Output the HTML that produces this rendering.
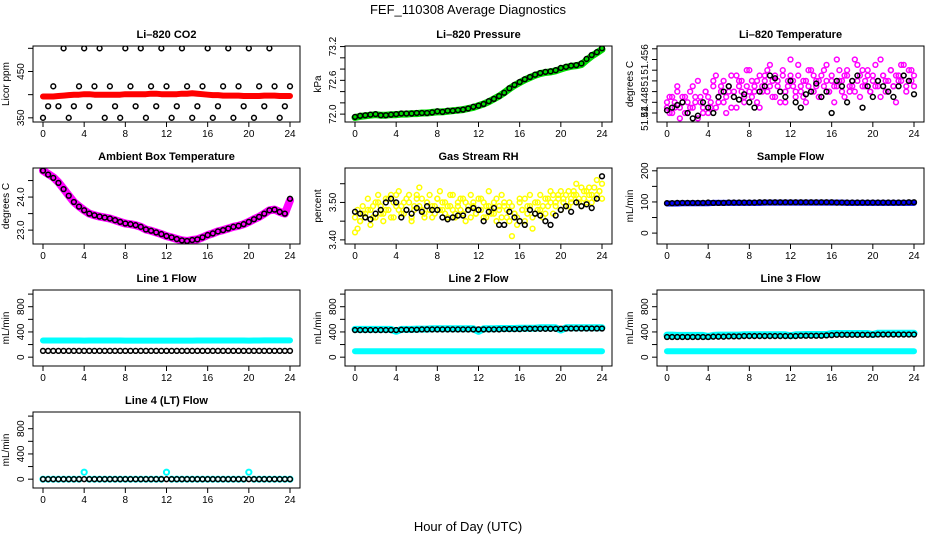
<!DOCTYPE html>
<html><head><meta charset="utf-8"><style>
html,body{margin:0;padding:0;background:#fff}
svg{display:block;font-family:"Liberation Sans",Arial,sans-serif}
</style></head><body>
<svg id="c" width="936" height="540" viewBox="0 0 936 540">
<text x="468" y="14" text-anchor="middle" font-size="13">FEF_110308  Average Diagnostics</text>
<text x="468" y="531" text-anchor="middle" font-size="13">Hour of Day (UTC)</text>
</svg>
<script>
const hours=[0,0.5,1,1.5,2,2.5,3,3.5,4,4.5,5,5.5,6,6.5,7,7.5,8,8.5,9,9.5,10,10.5,11,11.5,12,12.5,13,13.5,14,14.5,15,15.5,16,16.5,17,17.5,18,18.5,19,19.5,20,20.5,21,21.5,22,22.5,23,23.5,24];
const xTicks=[0,4,8,12,16,20,24];
const co2Black=[350,375,418,375,500,350,375,418,500,375,418,500,350,418,375,350,500,418,375,500,350,418,375,500,418,350,375,500,418,350,375,418,500,350,375,418,500,350,418,375,500,350,418,375,500,418,350,375,418];
const co2Red=[396,396,396,397,398,399,400,400,401,401,400,400,400,400,400,400,401,401,401,401,401,402,402,401,401,401,401,402,402,403,402,401,400,399,399,398,398,398,398,397,397,397,397,398,398,398,397,397,397];
const presBlack=[71.95,71.97,71.98,71.99,72.0,71.98,71.98,71.99,72.0,72.01,72.01,72.01,72.02,72.02,72.02,72.03,72.05,72.04,72.06,72.06,72.07,72.08,72.1,72.13,72.15,72.18,72.23,72.27,72.32,72.38,72.46,72.52,72.57,72.62,72.66,72.7,72.73,72.75,72.76,72.78,72.82,72.84,72.86,72.87,72.9,72.98,73.05,73.1,73.17];
const presGreen=[71.94,71.96,71.97,71.98,71.99,71.98,71.98,71.99,71.99,72.0,72.0,72.01,72.01,72.02,72.02,72.03,72.04,72.04,72.05,72.06,72.07,72.08,72.1,72.12,72.15,72.18,72.22,72.27,72.32,72.38,72.45,72.51,72.56,72.61,72.65,72.69,72.72,72.74,72.75,72.77,72.8,72.83,72.85,72.86,72.88,72.96,73.03,73.09,73.15];
const tempMag=[8,6,9,7,10,5,8,9,6,7,11,8,5,9,7,10,6,8,12,7,9,11,8,6,10,13,9,7,12,10,8,11,14,9,10,12,7,11,13,10,15,12,9,11,8,13,10,12,16,11,9,13,10,12,8,11,14,10,12,9,13,11,15,10,12,8,11,14,12,9,13,10,11,16,12,9,14,11,13,10,12,15,11,9,13,12,10,14,11,8,13,12,15,10,12,14,11];
const tempMag2=[7,9,6,8,11,7,9,6,8,10,7,9,12,8,6,10,9,7,11,13,8,10,12,9,11,7,10,13,11,12,9,14,10,12,11,8,13,10,12,14,11,9,13,12,10,14,8,11,13,12,10,15,11,9,12,14,10,13,11,12,9,14,12,10,13,11,16,12,10,13,14,11,12,10,15,13,11,12,14,10,13,11,12,16,13,10,12,14,11,13,12,15,13,11,14,12,13];
const tempBlack=[6.5,7,7.5,8,6,5,5.5,8,7,6,9,10,11,9,8.5,9.5,8,7,10,11,13,12.5,10,9,12,8,7,9.5,10,11.5,9,10,6,12,11,8,12,13,7,11,9,12,11,10,9,11,13,12,9.5];
const ambMag=[24.8,24.7,24.6,24.45,24.25,24.05,23.85,23.72,23.6,23.5,23.45,23.41,23.38,23.35,23.3,23.25,23.2,23.18,23.15,23.1,23.02,22.98,22.93,22.88,22.82,22.78,22.73,22.69,22.67,22.7,22.72,22.78,22.85,22.9,22.96,23.0,23.05,23.1,23.13,23.18,23.25,23.33,23.4,23.5,23.6,23.62,23.55,23.5,23.9];
const ambBlack=[24.8,24.68,24.58,24.43,24.24,24.04,23.85,23.71,23.6,23.5,23.45,23.41,23.38,23.35,23.3,23.25,23.2,23.18,23.15,23.1,23.02,22.98,22.93,22.88,22.82,22.78,22.73,22.69,22.67,22.7,22.72,22.78,22.85,22.9,22.96,23.0,23.05,23.1,23.13,23.18,23.25,23.33,23.4,23.5,23.6,23.62,23.55,23.5,23.95];
const rhYellow=[2,3,5,7,6,8,4,9,6,10,7,5,11,8,12,6,9,13,7,10,8,12,5,9,11,14,8,6,10,12,9,7,11,13,8,10,6,9,12,7,10,8,11,5,9,12,10,7,8,11,6,9,13,7,10,5,8,12,9,6,10,1,7,4,11,8,5,9,12,3,7,10,8,6,11,9,13,7,10,12,8,11,9,13,10,12,15,11,9,13,10,14,12,11,16,13,15];
const rhYellow2=[6,8,5,9,7,11,8,6,10,12,9,7,8,11,6,10,12,8,9,7,11,10,6,8,12,9,11,7,10,8,6,9,11,8,10,7,9,12,8,6,9,11,7,10,8,6,9,7,11,8,10,6,9,8,7,11,9,6,10,8,5,9,7,6,10,8,11,7,9,6,10,8,12,9,7,11,10,12,9,11,13,10,12,9,11,13,12,10,14,11,13,12,10,14,12,13,11];
const rhBlack=[7.5,7,6,5.5,7,8,10,11,10,6,8,7,8.5,7.5,9,8,8,6,5.5,6,6.5,6.5,8,8.5,8,5,7.5,8.5,4,4,7.5,6,5,4,8,7,6.5,5,4,6.5,8,9,7.5,10,9,9.5,8.5,11,17];
const sampBlue=[95,95,95,96,96,96,96,96,96,97,97,97,97,97,97,97,97,97,97,98,98,98,98,98,98,98,98,98,98,98,98,98,98,98,98,97,97,97,97,97,97,97,97,97,97,97,97,97,97];
const sampBlack=[96,96,97,97,97,97,97,97,98,97,97,97,98,98,98,98,98,98,99,99,99,99,99,99,99,99,99,99,99,99,99,99,99,98,98,98,98,98,98,98,98,98,98,98,98,98,98,99,99];
const l1Cyan=[265,265,265,265,265,264,264,264,262,264,264,264,264,264,264,264,262,263,263,263,263,263,263,263,262,263,263,263,263,263,264,264,264,264,264,264,265,265,265,265,263,265,265,266,266,266,266,266,266];
const l1Black=[100,100,100,100,100,100,100,100,100,100,100,100,100,100,100,100,100,100,100,100,100,100,100,100,100,100,100,100,100,100,100,100,100,100,100,100,100,100,100,100,100,100,100,100,100,100,100,100,100];
const l2Cyan=[440,440,440,440,440,440,440,440,410,440,440,440,445,445,445,450,450,450,450,450,450,450,450,450,410,450,450,450,455,455,455,455,460,460,460,460,465,465,465,465,430,465,465,465,465,465,465,465,465];
const l2Black=[430,430,430,430,430,430,430,430,430,435,435,435,435,440,440,440,440,440,440,440,440,440,440,440,440,440,440,440,440,445,445,445,445,450,450,450,450,450,450,450,450,455,455,455,455,455,455,455,455];
const lowCyan=[95,95,95,95,95,95,95,95,95,95,95,95,95,95,95,95,95,95,95,95,95,95,95,95,95,95,95,95,95,95,95,95,95,95,95,95,95,95,95,95,95,95,95,95,95,95,95,95,95];
const l3Cyan=[350,350,345,345,345,345,345,345,330,345,350,350,350,350,350,355,355,355,355,355,355,355,355,355,340,355,355,360,360,360,360,360,375,375,375,375,375,375,375,375,360,380,380,380,380,380,380,380,380];
const l3Black=[320,320,320,320,320,320,320,320,320,325,325,325,330,330,330,335,335,335,335,335,335,335,335,335,335,335,340,340,340,340,340,345,350,355,355,355,355,355,355,355,355,360,360,360,360,360,360,360,360];
const l4Cyan=[0,0,0,0,0,0,0,0,110,0,0,0,0,0,0,0,0,0,0,0,0,0,0,0,110,0,0,0,0,0,0,0,0,0,0,0,0,0,0,0,110,0,0,0,0,0,0,0,0];
const l4Black=[0,0,0,0,0,0,0,0,0,0,0,0,0,0,0,0,0,0,0,0,0,0,0,0,0,0,0,0,0,0,0,0,0,0,0,0,0,0,0,0,0,0,0,0,0,0,0,0,0];
const flowTicks=[0,200,400,600,800,1000];
const flowLabelVals=[0,400,800];

const NS="http://www.w3.org/2000/svg";
const svg=document.getElementById('c');
function mk(tag,attrs,parent){const e=document.createElementNS(NS,tag);for(const k in attrs)e.setAttribute(k,attrs[k]);(parent||svg).appendChild(e);return e;}

function panel(o){
  const bx=33+312*o.col, by=46+122*o.row, bw=267, bh=76;
  const g=mk('g',{});
  
  
  const X=t=>bx+10+t*247/24;
  const Y=v=>by+bh-(v-o.lo)/(o.hi-o.lo)*bh;
  const tt=mk('text',{x:bx+bw/2,y:by-8,'text-anchor':'middle','font-size':11,'font-weight':'bold'},g);
  tt.textContent=o.title;
  
  
  const yl=mk('text',{transform:`translate(${bx-24},${by+bh/2}) rotate(-90)`,'text-anchor':'middle','font-size':10},g);
  yl.textContent=o.ylab;
  
  
  for(const v of o.ticks){mk('line',{x1:bx-5,x2:bx,y1:Y(v),y2:Y(v),stroke:'#000','stroke-width':1},g);}
  o.labVals.forEach((v,i)=>{
    const t=mk('text',{transform:`translate(${bx-9},${Y(v)}) rotate(-90)`,'text-anchor':'middle','font-size':10},g);
    t.textContent=o.labTexts?o.labTexts[i]:String(v);
    
    
  });
  for(const t of xTicks){
    mk('line',{x1:X(t),x2:X(t),y1:by+bh,y2:by+bh+5,stroke:'#000','stroke-width':1},g);
    const lt=mk('text',{x:X(t),y:by+bh+15,'text-anchor':'middle','font-size':10},g);
    lt.textContent=String(t);
    
    
  }
  const clipId='clip'+o.name;
  const cp=mk('clipPath',{id:clipId},g); mk('rect',{x:bx,y:by,width:bw,height:bh},cp);
  const pg=mk('g',{'clip-path':`url(#${clipId})`},g);
  for(const s of o.series){
    const n=s.vals.length;
    const tx=i=>s.times?s.times[i]:i*24/(n-1);
    if(s.type==='line'){
      const pts=s.vals.map((v,i)=>X(tx(i)).toFixed(1)+','+Y(v).toFixed(1)).join(' ');
      const pl=mk('polyline',{points:pts,fill:'none',stroke:s.color,'stroke-width':s.w,'stroke-linejoin':'round','stroke-linecap':'round'},pg);
      
      
    } else {
      s.vals.forEach((v,i)=>{
        const c=mk('circle',{cx:X(tx(i)),cy:Y(v),r:s.r||2.4,fill:'none',stroke:s.color,'stroke-width':s.sw||1.5},pg);
        
        
      });
    }
  }
  const box=mk('rect',{x:bx,y:by,width:bw,height:bh,fill:'none',stroke:'#000','stroke-width':1},g);
  
  
}

panel({col:0,row:0,name:'co2',title:'Li\u2013820 CO2',ylab:'Licor ppm',lo:341,hi:505,ticks:[350,400,450,500],labVals:[350,450],
  series:[{id:'red',type:'line',color:'#ff0000',w:6,vals:co2Red,times:hours},{id:'black',type:'pts',color:'#000',vals:co2Black,times:hours}]});
panel({col:1,row:0,name:'pressure',title:'Li\u2013820 Pressure',ylab:'kPa',lo:71.86,hi:73.21,ticks:[72.0,72.2,72.4,72.6,72.8,73.0,73.2],labVals:[72.0,72.6,73.2],labTexts:['72.0','72.6','73.2'],
  series:[{id:'green',type:'line',color:'#00dd00',w:7,vals:presGreen,times:hours},{id:'black',type:'pts',color:'#000',vals:presBlack,times:hours}]});
panel({col:2,row:0,name:'temperature',title:'Li\u2013820 Temperature',ylab:'degrees C',lo:4.32,hi:18.52,ticks:[6,8,10,12,14,16,18],labVals:[5,8,12,16],labTexts:['51.44','51.448','51','51.456'],
  series:[{id:'magenta',type:'pts',color:'#ff00ff',vals:tempMag},{id:'magenta2',type:'pts',color:'#ff00ff',vals:tempMag2},{id:'black',type:'pts',color:'#000',vals:tempBlack,times:hours}]});
panel({col:0,row:1,name:'ambient',title:'Ambient Box Temperature',ylab:'degrees C',lo:22.58,hi:24.88,ticks:[23.0,23.5,24.0,24.5],labVals:[23.0,24.0],labTexts:['23.0','24.0'],
  series:[{id:'magenta',type:'line',color:'#ff00ff',w:8,vals:ambMag,times:hours},{id:'black',type:'pts',color:'#000',vals:ambBlack,times:hours}]});
panel({col:1,row:1,name:'rh',title:'Gas Stream RH',ylab:'percent',lo:-1.1,hi:19.2,ticks:[0,5,10,15],labVals:[0,10],labTexts:['3.40','3.50'],
  series:[{id:'yellow',type:'pts',color:'#ffff00',vals:rhYellow},{id:'yellow2',type:'pts',color:'#ffff00',vals:rhYellow2},{id:'black',type:'pts',color:'#000',vals:rhBlack,times:hours}]});
panel({col:2,row:1,name:'sample-flow',title:'Sample Flow',ylab:'mL/min',lo:-35,hi:209,ticks:[0,50,100,150,200],labVals:[0,100,200],
  series:[{id:'blue',type:'line',color:'#0000ff',w:6,vals:sampBlue,times:hours},{id:'black',type:'pts',color:'#000',vals:sampBlack,times:hours}]});
const flowOpts={ylab:'mL/min',lo:-140,hi:1065,ticks:flowTicks,labVals:flowLabelVals};
panel(Object.assign({col:0,row:2,name:'line1',title:'Line 1 Flow',series:[{id:'cyan',type:'line',color:'#00ffff',w:6,vals:l1Cyan,times:hours},{id:'black',type:'pts',color:'#000',vals:l1Black,times:hours}]},flowOpts));
panel(Object.assign({col:1,row:2,name:'line2',title:'Line 2 Flow',series:[{id:'cyan',type:'line',color:'#00ffff',w:7,vals:l2Cyan,times:hours},{id:'cyan-low',type:'line',color:'#00ffff',w:6,vals:lowCyan,times:hours},{id:'black',type:'pts',color:'#000',vals:l2Black,times:hours}]},flowOpts));
panel(Object.assign({col:2,row:2,name:'line3',title:'Line 3 Flow',series:[{id:'cyan',type:'line',color:'#00ffff',w:7,vals:l3Cyan,times:hours},{id:'cyan-low',type:'line',color:'#00ffff',w:6,vals:lowCyan,times:hours},{id:'black',type:'pts',color:'#000',vals:l3Black,times:hours}]},flowOpts));
panel(Object.assign({col:0,row:3,name:'line4',title:'Line 4 (LT) Flow',series:[{id:'cyan',type:'pts',color:'#00ffff',r:2.6,sw:2,vals:l4Cyan,times:hours},{id:'black',type:'pts',color:'#000',vals:l4Black,times:hours}]},flowOpts));
</script>
</body></html>
